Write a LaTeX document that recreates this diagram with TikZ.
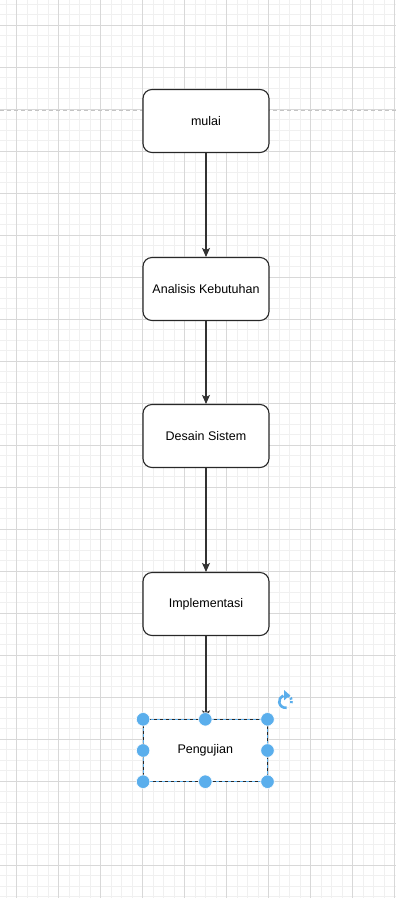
\documentclass[tikz,border=0pt]{standalone}
\usepackage{fontspec}
\setmainfont{Liberation Sans}
\usetikzlibrary{arrows.meta}
\definecolor{gridmajor}{RGB}{216,216,216}
\definecolor{gridminor}{RGB}{240,240,240}
\definecolor{pagebreak}{RGB}{196,196,196}
\definecolor{handle}{RGB}{90,174,236}
\definecolor{boxline}{RGB}{40,40,40}
\definecolor{flowline}{RGB}{50,50,50}
\tikzset{
  minorline/.style={gridminor, line width=0.8pt},
  majorline/.style={gridmajor, line width=0.9pt},
  stepbox/.style={draw=boxline, fill=white, line width=1.1pt, rounded corners=9pt,
    minimum width=126pt, minimum height=63pt, inner sep=0pt, font=\fontsize{12.5pt}{15pt}\selectfont},
  selbox/.style={draw=none, fill=white,
    minimum width=124pt, minimum height=62pt, inner sep=0pt, font=\fontsize{12.5pt}{15pt}\selectfont},
  flow/.style={flowline, line width=1.1pt, -{Stealth[length=9pt, width=8pt, inset=2pt]}},
  grip/.style={circle, fill=handle, draw=white, line width=0.6pt, minimum size=13.5pt, inner sep=0pt}
}
\begin{document}
\begin{tikzpicture}[x=1pt, y=-1pt]
  \useasboundingbox (0,0) rectangle (396,898);
  \fill[white] (0,0) rectangle (396,898);
  % background grid: minor then major lines
  \foreach \i in {0,...,38} {
    \draw[minorline] ({6.2+10.5*\i},0) -- ({6.2+10.5*\i},898);
  }
  \foreach \i in {0,...,86} {
    \draw[minorline] (0,{4+10.5*\i}) -- (396,{4+10.5*\i});
  }
  \foreach \i in {0,...,9} {
    \draw[majorline] ({16.7+42*\i},0) -- ({16.7+42*\i},898);
  }
  \foreach \i in {0,...,21} {
    \draw[majorline] (0,{25+42*\i}) -- (396,{25+42*\i});
  }
  % page break marker
  \draw[pagebreak, line width=0.9pt, dash pattern=on 4pt off 3pt] (0,110.7) -- (396,110.7);

  % process steps
  \node[stepbox] (mulai)    at (206,121)   {mulai};
  \node[stepbox] (analisis) at (206,289)   {Analisis Kebutuhan};
  \node[stepbox] (desain)   at (206,436)   {Desain Sistem};
  \node[stepbox] (impl)     at (206,604)   {Implementasi};
  \node[selbox]  (uji)      at (205.3,750.5) {Pengujian};

  % connectors
  \draw[flow] (mulai.south) -- (analisis.north);
  \draw[flow] (analisis.south) -- (desain.north);
  \draw[flow] (desain.south) -- (impl.north);
  \draw[flow] (impl.south) -- (impl.south |- uji.north);

  % selected shape: dashed outline with resize handles
  \draw[handle, line width=1pt] (uji.north west) rectangle (uji.south east);
  \draw[boxline, line width=1pt, dash pattern=on 3pt off 3pt] (uji.north west) rectangle (uji.south east);
  \foreach \a in {north west, north, north east, west, east, south west, south, south east} {
    \node[grip] at (uji.\a) {};
  }
  % rotation handle: solid arc with arrowhead, dotted tail
  \coordinate (rot) at (285.5,701.5);
  \draw[handle, line width=2.6pt] ([shift={(-80:6.3pt)}]rot) arc[start angle=-80, end angle=-250, radius=6.3pt];
  \draw[handle, line width=2.6pt, dash pattern=on 2pt off 1.6pt] ([shift={(-258:6.3pt)}]rot) arc[start angle=-258, end angle=-385, radius=6.3pt];
  \fill[handle] ([shift={(-1.5,-11.5)}]rot) -- ([shift={(4.5,-6.3)}]rot) -- ([shift={(-1.5,-1.1)}]rot) -- cycle;
\end{tikzpicture}
\end{document}
